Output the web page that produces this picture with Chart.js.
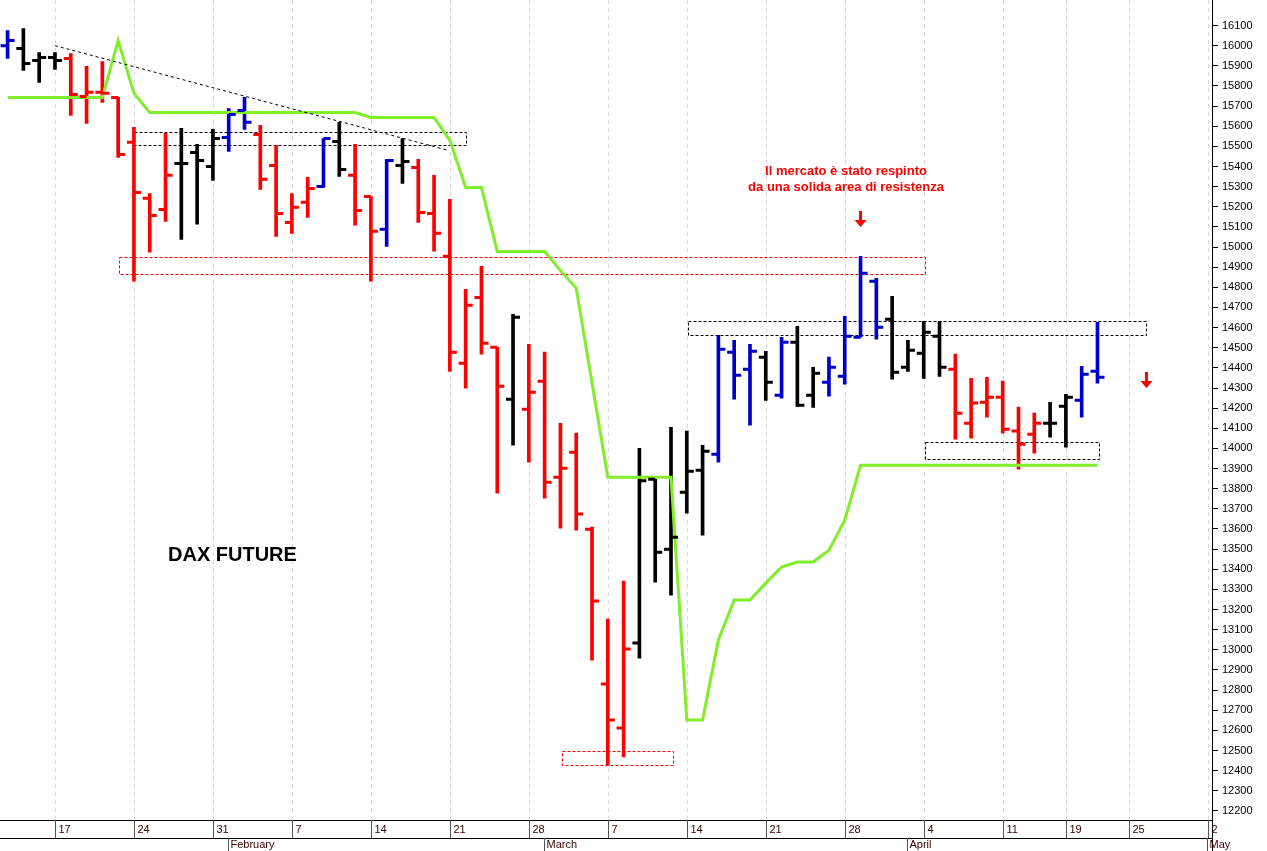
<!DOCTYPE html>
<html>
<head>
<meta charset="utf-8">
<script src="https://cdn.jsdelivr.net/npm/chart.js@4.4.1/dist/chart.umd.min.js"></script>
<style>
  body { margin: 0; background: #fff; }
  #wrap { width: 1267px; height: 851px; }
</style>
</head>
<body>
<div id="wrap"><canvas id="dax"></canvas></div>
<script>
// trading days, Jan 12 -> May 2 (Apr 15 and Apr 18 closed)
const tradingDays = [];
(function () {
    const d = new Date(2022, 0, 12);
    const end = new Date(2022, 4, 2);
    while (d <= end) {
        const wd = d.getDay();
        const closed = (d.getMonth() === 3 && (d.getDate() === 15 || d.getDate() === 18));
        if (wd !== 0 && wd !== 6 && !closed) tradingDays.push(new Date(d));
        d.setDate(d.getDate() + 1);
    }
})();

// OHLC
const opens  = [16000,15986,15926,15941,15936,15748,15768,15743,15520,15242,15187,15415,15470,15400,15544,15678,15559,15405,15122,15222,
                15301,15524,15356,15251,15088,15405,15395,15167,14954,14423,14750,14502,14244,14195,14334,13857,13981,13599,12830,12612,
                13034,13847,13500,13783,13892,13971,14478,14393,14453,14264,14527,14264,14329,14358,14552,14830,14641,14403,14473,14557,
                14393,14125,14229,14254,14086,14071,14125,14209,14239,14383];
const highs  = [16075,16085,15966,15966,15961,15897,15921,15743,15594,15266,15564,15589,15510,15584,15688,15743,15604,15505,15266,15346,
                15539,15619,15510,15251,15435,15539,15435,15356,15237,14790,14904,14502,14666,14517,14478,14125,14076,13609,13153,13341,
                14001,13847,14105,14086,14016,14562,14537,14517,14482,14552,14606,14403,14453,14656,14954,14845,14755,14537,14631,14631,
                14468,14348,14353,14334,14205,14175,14229,14269,14408,14626];
const lows   = [15936,15877,15817,15882,15653,15614,15718,15445,14830,14974,15127,15038,15113,15331,15475,15584,15286,15053,15068,15147,
                15296,15351,15108,14830,15003,15316,15122,14979,14383,14299,14468,13778,14016,13932,13753,13604,13594,12949,12428,12468,
                12959,13336,13271,13678,13569,13932,14244,14115,14239,14249,14209,14204,14259,14319,14552,14542,14344,14383,14348,14358,
                14046,14051,14155,14076,13897,13976,14056,14006,14155,14324];
const closes = [16025,15911,15941,15926,15758,15768,15763,15460,15271,15157,15356,15415,15430,15539,15658,15619,15336,15167,15197,15291,
                15539,15385,15182,15078,15430,15425,15172,15068,14478,14711,14522,14309,14651,14279,13832,13901,13674,13242,12652,13004,
                13840,13485,13559,13887,13986,14492,14363,14482,14329,14527,14214,14373,14403,14557,14870,14602,14378,14487,14577,14403,
                14175,14225,14254,14095,14021,14125,14125,14254,14368,14353];
// b = blue, k = black, r = red
const barColors = 'bkkkrrrrrrrkkkbbrrrrbkrrbkrrrrrrkrrrrrrrkkkkkbbbkbkkbbbbkkkkrrrrrrkkbb';

// green trailing stop
const stopLine = [15743,15743,15743,15743,15743,15743,15743,16025,15763,15668,15668,15668,15668,15668,15668,15668,15668,15668,15668,15668,
                  15668,15668,15668,15643,15643,15643,15643,15643,15530,15296,15296,14978,14978,14978,14978,14884,14795,14326,13857,13857,
                  13857,13857,13857,12652,12652,13049,13247,13247,13331,13411,13436,13436,13495,13644,13917,13917,13917,13917,13917,13917,
                  13917,13917,13917,13917,13917,13917,13917,13917,13917,13917];

// dashed trendline (bar index, price)
const trendLine = [{ x: 3, y: 16000 }, { x: 27.9, y: 15480 }];

// zones: [fromIndex, toIndex, low, high, colour]
const zones = [
    [8, 29.0, 15504, 15569, '#000'],
    [7.05, 58.1, 14864, 14949, '#ff0000'],
    [35.1, 42.1, 12428, 12498, '#ff0000'],
    [43.1, 72.1, 14562, 14631, '#000'],
    [58.1, 69.1, 13947, 14031, '#000']
];

// arrows: [index, price of tip]
const arrows = [[54, 15100], [72.1, 14300]];

const colorMap = { b: '#0000cc', k: '#000000', r: '#ff0000' };
const hlData = highs.map((h, i) => ({ x: i, y: [lows[i], h] }));
const mondayIdx = [];
tradingDays.forEach((d, i) => {
    const prev = tradingDays[i - 1];
    if (i > 0 && (d.getDay() < prev.getDay() || (d - prev) > 3 * 864e5)) mondayIdx.push(i);
});
const monthNames = ['January', 'February', 'March', 'April', 'May'];

const overlayPlugin = {
    id: 'overlay',
    beforeDatasetsDraw(chart) {
        const { ctx, chartArea, scales: { x, y } } = chart;
        ctx.save();
        // vertical grid
        ctx.strokeStyle = '#d8d8d8';
        ctx.setLineDash([4, 4]);
        ctx.lineWidth = 1;
        mondayIdx.forEach(i => {
            const px = Math.round(x.getPixelForValue(i)) + 0.5;
            ctx.beginPath(); ctx.moveTo(px, 0); ctx.lineTo(px, chartArea.bottom); ctx.stroke();
        });
        // zones
        ctx.lineWidth = 1;
        ctx.setLineDash([3, 2]);
        zones.forEach(([a, b, lo, hi, c]) => {
            const x0 = x.getPixelForValue(a), x1 = x.getPixelForValue(b);
            const y0 = y.getPixelForValue(hi), y1 = y.getPixelForValue(lo);
            ctx.strokeStyle = c;
            ctx.strokeRect(Math.round(x0) + 0.5, Math.round(y0) + 0.5, Math.round(x1 - x0), Math.round(y1 - y0));
        });
        ctx.restore();
    },
    afterDatasetsDraw(chart) {
        const { ctx, chartArea, scales: { x, y } } = chart;
        ctx.save();
        // open / close ticks
        ctx.lineWidth = 3;
        opens.forEach((o, i) => {
            const px = x.getPixelForValue(i);
            ctx.strokeStyle = colorMap[barColors[i]];
            ctx.beginPath();
            ctx.moveTo(px - 7, y.getPixelForValue(o)); ctx.lineTo(px, y.getPixelForValue(o));
            ctx.moveTo(px, y.getPixelForValue(closes[i])); ctx.lineTo(px + 7, y.getPixelForValue(closes[i]));
            ctx.stroke();
        });
        // arrows
        ctx.fillStyle = '#ff0000';
        ctx.strokeStyle = '#ff0000';
        arrows.forEach(([i, p]) => {
            const px = x.getPixelForValue(i), py = y.getPixelForValue(p);
            ctx.lineWidth = 3;
            ctx.beginPath(); ctx.moveTo(px, py - 16); ctx.lineTo(px, py - 6); ctx.stroke();
            ctx.beginPath(); ctx.moveTo(px - 6, py - 7); ctx.lineTo(px + 6, py - 7); ctx.lineTo(px, py); ctx.closePath(); ctx.fill();
        });
        // texts
        ctx.fillStyle = '#000';
        ctx.font = 'bold 20px "Liberation Sans", Arial, sans-serif';
        ctx.textAlign = 'left';
        ctx.textBaseline = 'middle';
        ctx.fillText('DAX FUTURE', 168, 555);
        ctx.fillStyle = '#ff0000';
        ctx.font = 'bold 13px "Liberation Sans", Arial, sans-serif';
        ctx.textAlign = 'center';
        ctx.fillText('Il mercato è stato respinto', 846, 171);
        ctx.fillText('da una solida area di resistenza', 846, 187);

        // x axis band
        const bottom = chartArea.bottom;
        ctx.strokeStyle = '#000';
        ctx.lineWidth = 1;
        ctx.setLineDash([]);
        ctx.beginPath();
        ctx.moveTo(0, bottom + 0.5); ctx.lineTo(chartArea.right, bottom + 0.5);
        ctx.moveTo(0, bottom + 18.5); ctx.lineTo(chartArea.right, bottom + 18.5);
        ctx.moveTo(chartArea.right + 0.5, 0); ctx.lineTo(chartArea.right + 0.5, 851);
        ctx.stroke();
        ctx.font = '11px "Liberation Sans Narrow", "Liberation Sans", Arial, sans-serif';
        ctx.fillStyle = '#3a0000';
        ctx.textAlign = 'left';
        ctx.strokeStyle = '#555';
        mondayIdx.forEach(i => {
            const px = Math.round(x.getPixelForValue(i)) + 0.5;
            ctx.beginPath(); ctx.moveTo(px, bottom); ctx.lineTo(px, bottom + 18); ctx.stroke();
            ctx.fillText(String(tradingDays[i].getDate()), px + 3, bottom + 10);
        });
        tradingDays.forEach((d, i) => {
            if (i === 0 || d.getMonth() === tradingDays[i - 1].getMonth()) return;
            const px = Math.round(x.getPixelForValue(i - 0.05)) + 0.5;
            ctx.beginPath(); ctx.moveTo(px, bottom + 18); ctx.lineTo(px, 851); ctx.stroke();
            ctx.fillText(monthNames[d.getMonth()], px + 2, bottom + 25);
        });
        ctx.restore();
    }
};

new Chart(document.getElementById('dax'), {
    type: 'bar',
    data: {
        datasets: [{
            type: 'line',
            data: stopLine.map((v, i) => ({ x: i, y: v })),
            borderColor: '#80ee2a',
            borderWidth: 3,
            pointRadius: 0,
            tension: 0,
            order: 1
        }, {
            type: 'line',
            data: trendLine,
            borderColor: '#000',
            borderWidth: 1,
            borderDash: [3, 3],
            pointRadius: 0,
            order: 0
        }, {
            type: 'bar',
            data: hlData,
            backgroundColor: hlData.map((d, i) => colorMap[barColors[i]]),
            barThickness: 3,
            order: 2
        }]
    },
    options: {
        responsive: true,
        maintainAspectRatio: false,
        animation: false,
        layout: { padding: { bottom: 31 } },
        plugins: { legend: { display: false }, tooltip: { enabled: false } },
        scales: {
            x: {
                type: 'linear',
                min: -0.48,
                max: 76.25,
                offset: false,
                display: false
            },
            y: {
                position: 'right',
                min: 12155,
                max: 16174,
                afterBuildTicks: axis => {
                    axis.ticks = [];
                    for (let v = 12200; v <= 16100; v += 100) axis.ticks.push({ value: v });
                },
                afterFit: axis => { axis.width = 55; },
                grid: { drawOnChartArea: false, tickLength: 6, color: '#000' },
                border: { display: true, color: '#000' },
                ticks: {
                    color: '#000',
                    padding: 4,
                    callback: v => String(v),
                    font: { family: '"Liberation Sans Narrow", "Liberation Sans", Arial', size: 11 }
                }
            }
        }
    },
    plugins: [overlayPlugin]
});
</script>
</body>
</html>
